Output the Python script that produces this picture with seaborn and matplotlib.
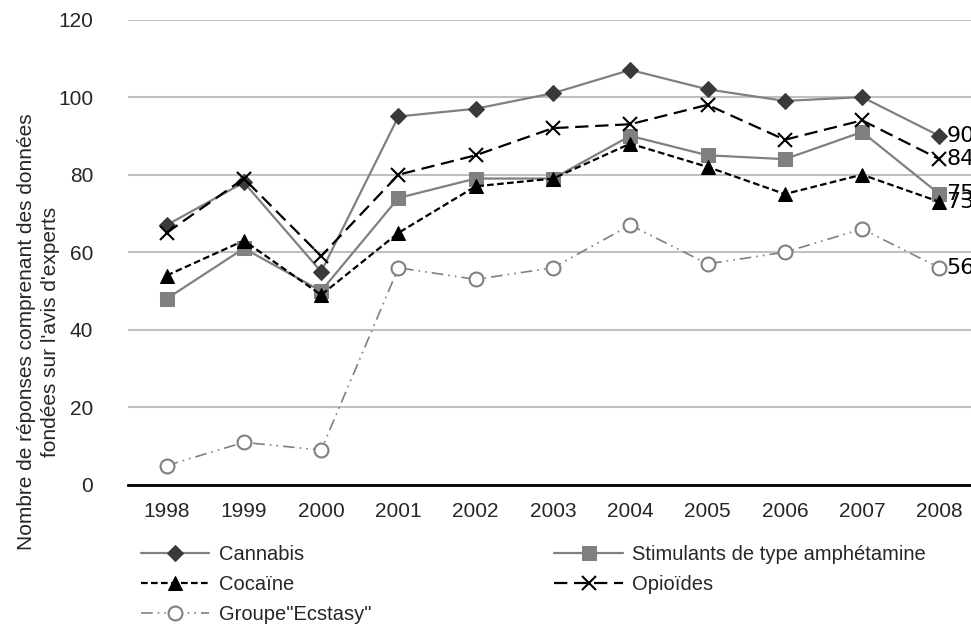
import matplotlib
matplotlib.use("Agg")
import matplotlib.pyplot as plt
import seaborn as sns
import pandas as pd

years = ["1998", "1999", "2000", "2001", "2002", "2003", "2004", "2005", "2006", "2007", "2008"]
cannabis = [67, 78, 55, 95, 97, 101, 107, 102, 99, 100, 90]
stimulants = [48, 61, 50, 74, 79, 79, 90, 85, 84, 91, 75]
cocaine = [54, 63, 49, 65, 77, 79, 88, 82, 75, 80, 73]
opioids = [65, 79, 59, 80, 85, 92, 93, 98, 89, 94, 84]
ecstasy = [5, 11, 9, 56, 53, 56, 67, 57, 60, 66, 56]
y_ticks = [0, 20, 40, 60, 80, 100, 120]

sns.set_theme(style="white")
plt.rcParams["font.family"] = ["Liberation Sans", "DejaVu Sans"]

fig = plt.figure(figsize=(9.71, 6.24), dpi=100)
W, H = 971, 624
ax_left, ax_right, ax_top, ax_bottom = 128, 978, 19.5, 485
ax = fig.add_axes([ax_left / W, 1 - ax_bottom / H, (ax_right - ax_left) / W, (ax_bottom - ax_top) / H])

series = [
    ("Cannabis", cannabis, dict(color="#808080", linestyle="-", marker="D",
                                markerfacecolor="#3a3a3a", markeredgecolor="#3a3a3a", markersize=8.5)),
    ("Stimulants de type amphétamine", stimulants, dict(color="#808080", linestyle="-", marker="s",
                                markerfacecolor="#808080", markeredgecolor="#808080", markersize=9.5)),
    ("Cocaïne", cocaine, dict(color="black", linestyle=(0, (3, 1.5)), marker="^",
                              markerfacecolor="black", markeredgecolor="black", markersize=10)),
    ("Opioïdes", opioids, dict(color="black", linestyle=(0, (6, 3)), marker="x",
                               markeredgecolor="black", markersize=10, markeredgewidth=1.5)),
    ("Groupe\"Ecstasy\"", ecstasy, dict(color="#808080", linestyle=(0, (7, 3, 1, 3, 1, 3)), marker="o",
                                        markerfacecolor="white", markeredgecolor="#808080",
                                        markersize=10, markeredgewidth=1.5, linewidth=1.2)),
]

handles = {}
for name, vals, style in series:
    df = pd.DataFrame({"year": years, "value": vals})
    lw = style.pop("linewidth", 1.6)
    sns.lineplot(data=df, x="year", y="value", ax=ax, sort=False, linewidth=lw, **style)
    handles[name] = ax.lines[-1]
    ax.annotate(str(vals[-1]), xy=(len(years) - 1, vals[-1]), xytext=(5, 0),
                textcoords="offset points", va="center", ha="left",
                fontsize=16, family="DejaVu Sans", color="black", annotation_clip=False)

ax.set_xlim(-0.5, len(years) - 0.5)
ax.set_ylim(0, 120)
ax.set_yticks(y_ticks)
ax.yaxis.grid(True, color="#c0c0c0", linewidth=1.5)
ax.xaxis.grid(False)
ax.set_axisbelow(True)
for side in ["left", "right", "top"]:
    ax.spines[side].set_visible(False)
ax.spines["bottom"].set_color("black")
ax.spines["bottom"].set_linewidth(2)
ax.tick_params(axis="y", length=0, pad=25, labelsize=15)
ax.tick_params(axis="x", length=0, pad=12, labelsize=15)
ax.set_xlabel("")
ax.set_ylabel("Nombre de réponses comprenant des données\nfondées sur l'avis d'experts", fontsize=15,
              linespacing=1.3)
ax_w = ax_right - ax_left
ax_h = ax_bottom - ax_top
ax.yaxis.set_label_coords((60 - ax_left) / ax_w, (ax_bottom - 332) / ax_h)

order = ["Cannabis", "Cocaïne", "Groupe\"Ecstasy\"", "Stimulants de type amphétamine", "Opioïdes"]
fig.legend([handles[n] for n in order], order, loc="upper left",
           bbox_to_anchor=(141 / W, 1 - 545 / H), ncol=2, frameon=False, fontsize=14.5,
           handlelength=3.4, handletextpad=0.45, columnspacing=9.1, labelspacing=0.55,
           borderaxespad=0, borderpad=0)

fig.savefig("out.png", dpi=100)
